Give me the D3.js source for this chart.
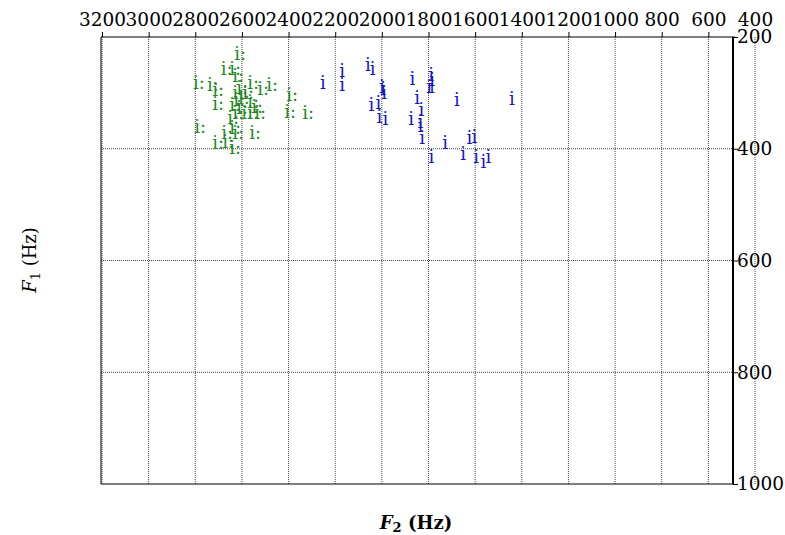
<!DOCTYPE html>
<html lang="en">
<head>
<meta charset="UTF-8">
<title>Vowel formant plot</title>
<script src="https://d3js.org/d3.v7.min.js"></script>
<style>
  body { margin: 0; background: #fff; }
  svg text { font-family: "DejaVu Serif", serif; }
</style>
</head>
<body>
<div id="chart"></div>
<script>
// F2 / F1 of tokens
const greenF2 = [2608, 2665, 2629, 2616, 2784, 2724, 2702, 2599, 2552, 2470, 2509, 2616, 2573, 2385,
  2702, 2629, 2599, 2552, 2535, 2616, 2578, 2552, 2522, 2393, 2316, 2779, 2629, 2543, 2663, 2616,
  2702, 2659, 2629, 2591, 2638, 2612];
const greenF1 = [230, 257, 257, 270, 282, 286, 295, 290, 282, 286, 293, 300, 300, 304,
  320, 322, 327, 316, 325, 336, 336, 336, 336, 334, 336, 361, 363, 372, 372, 372,
  390, 388, 399, 309, 345, 313];
const blueF2 = [2253, 2170, 2170, 2060, 2040, 2000, 1994, 1990, 2045, 2015, 2011, 1985, 1869, 1849,
  1831, 1874, 1835, 1835, 1827, 1789, 1784, 1797, 1785, 1788, 1678, 1729, 1651, 1625, 1603, 1596,
  1565, 1543, 1442];
const blueF1 = [282, 260, 286, 250, 257, 289, 293, 300, 322, 318, 343, 347, 275, 309,
  331, 347, 352, 359, 381, 268, 277, 289, 289, 414, 313, 390, 408, 381, 378, 414,
  423, 415, 311];
const f2Ticks = [3200, 3000, 2800, 2600, 2400, 2200, 2000, 1800, 1600, 1400, 1200, 1000, 800, 600, 400];
const f1Ticks = [200, 400, 600, 800, 1000];

const width = 785, height = 535;
const plotL = 101, plotR = 733, plotT = 37, plotB = 484;

const svg = d3.select("#chart").append("svg").attr("width", width).attr("height", height);

const x = d3.scaleLinear().domain([3200, 400]).range([102, 755]);
const y = d3.scaleLinear().domain([200, 1000]).range([plotT, plotB]);

// grid
svg.append("g").selectAll("line").data(f2Ticks).join("line")
  .attr("x1", d => x(d)).attr("x2", d => x(d))
  .attr("y1", plotT).attr("y2", plotB)
  .attr("stroke", "#444").attr("stroke-dasharray", "1,1");
svg.append("g").selectAll("line").data(f1Ticks.slice(1, -1)).join("line")
  .attr("x1", plotL).attr("x2", plotR)
  .attr("y1", d => y(d)).attr("y2", d => y(d))
  .attr("stroke", "#444").attr("stroke-dasharray", "1,1");

// frame
svg.append("line").attr("x1", plotL).attr("x2", plotL).attr("y1", plotT).attr("y2", plotB).attr("stroke", "#000");
svg.append("line").attr("x1", plotL).attr("x2", plotR).attr("y1", plotB).attr("y2", plotB).attr("stroke", "#000");
svg.append("line").attr("x1", plotR).attr("x2", plotR).attr("y1", plotT).attr("y2", plotB)
  .attr("stroke", "#000").attr("stroke-width", 2);

// top axis
const xAxis = d3.axisTop(x).tickValues(f2Ticks).tickSize(5).tickSizeOuter(0).tickFormat(d3.format("d"));
const gx = svg.append("g").attr("transform", `translate(0,${plotT})`).call(xAxis);
gx.select(".domain").attr("d", `M${plotL},0H${plotR + 2}`);
gx.selectAll(".tick line").filter(d => x(d) > plotR).remove();
gx.selectAll("text").attr("font-family", "DejaVu Serif").attr("font-size", 18.5)
  .attr("fill", "#000").attr("y", -11).attr("dy", "0");

// right axis
const yAxis = d3.axisRight(y).tickValues(f1Ticks).tickSize(5).tickSizeOuter(0).tickFormat(d3.format("d"));
const gy = svg.append("g").attr("transform", `translate(${plotR},0)`).call(yAxis);
gy.select(".domain").remove();
gy.selectAll("text").attr("font-family", "DejaVu Serif").attr("font-size", 18.5).attr("fill", "#000").attr("x", 4);

// tokens
svg.append("g").selectAll("text").data(d3.zip(greenF2, greenF1)).join("text")
  .attr("x", d => x(d[0])).attr("y", d => y(d[1]))
  .attr("text-anchor", "middle").attr("dy", "0.35em")
  .attr("font-size", 18).attr("fill", "#1f8a1f").text("i:");
svg.append("g").selectAll("text").data(d3.zip(blueF2, blueF1)).join("text")
  .attr("x", d => x(d[0])).attr("y", d => y(d[1]))
  .attr("text-anchor", "middle").attr("dy", "0.35em")
  .attr("font-size", 18).attr("fill", "#1414c8").text("i");

// axis titles
const xt = svg.append("text").attr("x", 416).attr("y", 529).attr("text-anchor", "middle")
  .attr("font-size", 18).attr("font-weight", "bold");
xt.append("tspan").attr("font-style", "italic").text("F");
xt.append("tspan").attr("font-size", 13).attr("dy", 3).text("2");
xt.append("tspan").attr("dy", -3).text(" (Hz)");

const yt = svg.append("text").attr("transform", "translate(36,260) rotate(-90)").attr("text-anchor", "middle").attr("font-size", 18);
yt.append("tspan").attr("font-style", "italic").text("F");
yt.append("tspan").attr("font-size", 13).attr("dy", 4).text("1");
yt.append("tspan").attr("dy", -4).text(" (Hz)");
</script>
</body>
</html>
